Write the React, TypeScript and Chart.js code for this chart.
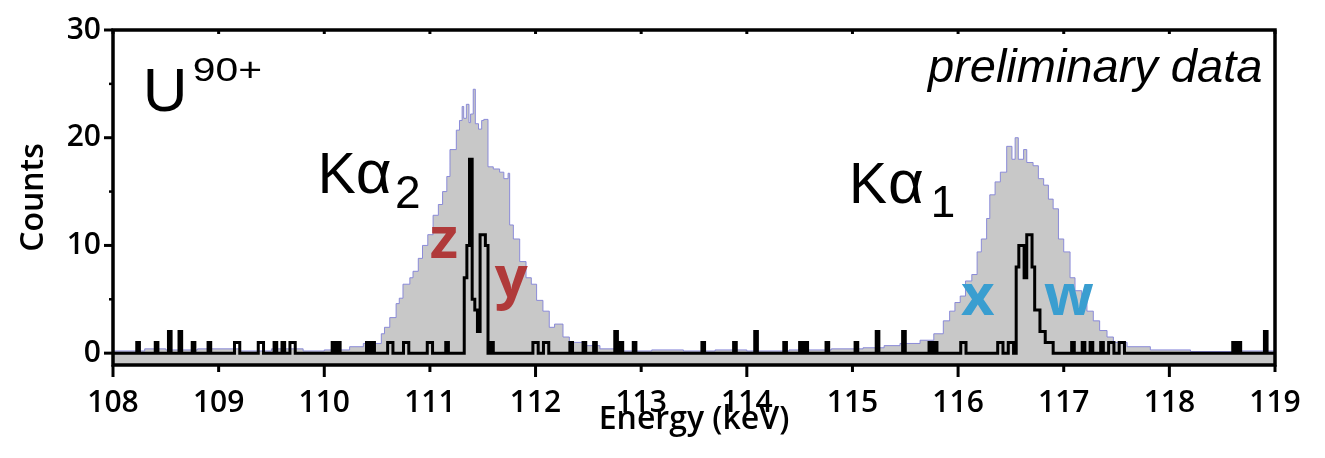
import { useEffect, useRef } from 'react';
import { Chart, registerables } from 'chart.js';

Chart.register(...registerables);

const X_MIN = 108;
const X_MAX = 119;
const Y_MIN = -1.1;
const Y_MAX = 30;

const xTickValues = [108, 109, 110, 111, 112, 113, 114, 115, 116, 117, 118, 119];
const yTickValues = [0, 10, 20, 30];
const yMinorTickValues = [5, 15, 25];

// Broad (gray) spectrum: bin start energies (keV) and counts
const grayEdges = [
  108.0, 108.3, 108.5, 108.8, 109.2, 109.5, 109.8, 110.0,
  110.24, 110.37, 110.54, 110.57, 110.62, 110.68, 110.71, 110.745, 110.81, 110.84, 110.89, 110.93,
  110.98, 111.03, 111.08, 111.12, 111.16, 111.19, 111.25, 111.28, 111.305, 111.32, 111.345, 111.37,
  111.385, 111.41, 111.43, 111.46, 111.49, 111.51, 111.55, 111.6, 111.66, 111.7, 111.74, 111.755,
  111.79, 111.85, 111.91, 111.96, 112.01, 112.07, 112.13, 112.18, 112.26, 112.32, 112.45, 112.61,
  112.8, 113.1, 113.4, 113.7, 114.0, 114.4, 114.8, 115.1, 115.3,
  115.45, 115.64, 115.77, 115.86, 115.92, 115.97, 116.02, 116.07, 116.13, 116.18, 116.22, 116.27,
  116.3, 116.35, 116.4, 116.46, 116.51, 116.54, 116.57, 116.62, 116.65, 116.71, 116.76, 116.81,
  116.855, 116.9, 116.95, 117.0, 117.06, 117.107, 117.17, 117.22, 117.28, 117.34, 117.41, 117.47,
  117.6, 117.82, 118.2, 118.6,
];
const grayCounts = [
  0.2, 0.4, 0.3, 0.4, 0.2, 0.4, 0.2, 0.3,
  0.6, 0.9, 1.8, 2.4, 3.3, 4.6, 5.1, 6.4, 7.0, 7.6, 8.8, 10.0,
  11.0, 12.8, 13.8, 15.0, 16.4, 18.9, 20.7, 21.6, 22.9, 21.8, 23.1, 21.4,
  22.2, 24.5, 21.3, 20.8, 21.6, 21.7, 17.3, 17.1, 16.8, 16.2, 16.7, 11.9,
  10.6, 8.5, 7.0, 6.4, 4.9, 3.9, 2.4, 2.7, 1.5, 1.0, 0.7, 0.4,
  0.2, 0.3, 0.2, 0.3, 0.2, 0.3, 0.4, 0.5, 0.7,
  0.9, 1.2, 1.8, 3.0, 3.9, 4.7, 5.3, 6.7, 7.3, 9.4, 10.6, 12.5,
  14.7, 15.9, 16.8, 19.2, 18.0, 20.0, 18.0, 18.9, 17.7, 17.4, 16.2, 15.6,
  14.3, 13.4, 10.6, 9.4, 7.0, 5.8, 4.9, 3.9, 3.0, 2.1, 1.5, 1.0,
  0.6, 0.3, 0.15, 0.2,
];

// High-resolution (black) spectrum: bin width, non-empty bin starts (keV) and counts
const BLACK_BIN = 0.025;
const blackBinStarts = [
  108.225, 108.4, 108.525, 108.625, 108.75, 108.9, 109.15, 109.175, 109.375, 109.4, 109.525, 109.6,
  109.675, 109.7, 110.075, 110.125, 110.4, 110.45, 110.6, 110.625, 110.75, 110.775, 110.975, 111.0,
  111.15,
  111.325, 111.35, 111.375, 111.4, 111.425, 111.45, 111.475, 111.5, 111.525,
  111.575, 111.975, 112.0, 112.075, 112.1, 112.325, 112.45, 112.55, 112.75, 112.8, 112.925, 113.575,
  113.875, 114.075, 114.35, 114.5, 114.55, 114.75, 115.025, 115.225, 115.475, 115.725, 115.775,
  116.025, 116.05, 116.375, 116.4, 116.475, 116.5,
  116.55, 116.575, 116.6, 116.625, 116.65, 116.675, 116.7, 116.725, 116.75, 116.775, 116.8, 116.825,
  116.85, 116.875,
  117.075, 117.175, 117.25, 117.35, 117.425, 117.45, 117.525, 117.55, 118.6, 118.65, 118.9,
];
const blackCounts = [
  1, 1, 2, 2, 1, 1, 1, 1, 1, 1, 1, 1,
  1, 1, 1, 1, 1, 1, 1, 1, 1, 1, 1, 1,
  1,
  7, 10, 18, 5, 4, 2, 11, 11, 10,
  1, 1, 1, 1, 1, 1, 1, 1, 2, 1, 1, 1,
  1, 2, 1, 1, 1, 1, 1, 2, 2, 1, 1,
  1, 1, 1, 1, 1, 1,
  8, 10, 10, 7, 11, 11, 8, 4, 4, 2, 2, 1,
  1, 1,
  1, 1, 1, 1, 1, 1, 1, 1, 1, 1, 2,
];

type Note = {
  text: string;
  x: number;
  y: number;
  font: string;
  color: string;
  align?: CanvasTextAlign;
  scaleX?: number;
};

const notes: Note[] = [
  { text: 'U', x: 108.282, y: 22.5, font: '62px "Liberation Sans"', color: '#000' },
  { text: '90+', x: 108.755, y: 25.3, font: '34px "Liberation Sans"', color: '#000', scaleX: 1.2 },
  { text: 'preliminary data', x: 118.88, y: 25.2, font: 'italic 47px "Liberation Sans"', color: '#000', align: 'right' },
  { text: 'K', x: 109.938, y: 14.9, font: '57px "Liberation Sans"', color: '#000' },
  { text: 'α', x: 110.297, y: 14.9, font: '62px "Liberation Sans"', color: '#000' },
  { text: '2', x: 110.67, y: 13.5, font: '46px "Liberation Sans"', color: '#000' },
  { text: 'K', x: 114.967, y: 13.9, font: '57px "Liberation Sans"', color: '#000' },
  { text: 'α', x: 115.336, y: 13.9, font: '62px "Liberation Sans"', color: '#000' },
  { text: '1', x: 115.74, y: 12.6, font: '44px "Liberation Sans"', color: '#000' },
  { text: 'z', x: 110.998, y: 8.8, font: 'bold 58px "Open Sans"', color: '#b03a3a' },
  { text: 'y', x: 111.613, y: 5.2, font: 'bold 58px "Open Sans"', color: '#b03a3a' },
  { text: 'x', x: 116.027, y: 3.5, font: 'bold 58px "Open Sans"', color: '#3a9ed0' },
  { text: 'w', x: 116.813, y: 3.5, font: 'bold 58px "Open Sans"', color: '#3a9ed0' },
];

const grayPoints = grayEdges.map((e, i) => ({ x: e, y: grayCounts[i] }));
grayPoints.push({ x: X_MAX, y: grayCounts[grayCounts.length - 1] });

const nBlackBins = Math.round((X_MAX - X_MIN) / BLACK_BIN);
const blackHist: number[] = new Array(nBlackBins).fill(0);
blackBinStarts.forEach((s, i) => {
  const idx = Math.round((s - X_MIN) / BLACK_BIN);
  if (idx >= 0 && idx < nBlackBins) blackHist[idx] = blackCounts[i];
});
const blackPoints = blackHist.map((c, i) => ({ x: X_MIN + i * BLACK_BIN, y: c }));
blackPoints.push({ x: X_MAX, y: 0 });

const framePlugin = {
  id: 'frameAndNotes',
  afterDatasetsDraw(chart: any) {
    const { ctx, chartArea: a, scales } = chart;
    const xs = scales.x;
    const ys = scales.y;
    ctx.save();
    // text annotations
    ctx.textBaseline = 'alphabetic';
    notes.forEach((n) => {
      ctx.save();
      ctx.font = n.font;
      ctx.fillStyle = n.color;
      ctx.textAlign = n.align || 'left';
      const px = xs.getPixelForValue(n.x);
      const py = ys.getPixelForValue(n.y);
      ctx.translate(px, py);
      ctx.scale(n.scaleX || 1, 1);
      ctx.fillText(n.text, 0, 0);
      ctx.restore();
    });
    // frame
    ctx.strokeStyle = '#000';
    ctx.lineWidth = 3.5;
    ctx.strokeRect(a.left, a.top, a.right - a.left, a.bottom - a.top);
    const line = (x1: number, y1: number, x2: number, y2: number) => {
      ctx.beginPath();
      ctx.moveTo(x1, y1);
      ctx.lineTo(x2, y2);
      ctx.stroke();
    };
    ctx.lineWidth = 3;
    xTickValues.forEach((v) => {
      const px = xs.getPixelForValue(v);
      const len = v % 2 === 0 ? 12 : 7;
      line(px, a.bottom, px, a.bottom + len);
      line(px, a.top, px, a.top + 4);
    });
    yTickValues.forEach((v) => {
      const py = ys.getPixelForValue(v);
      line(a.left - 9, py, a.left, py);
    });
    ctx.lineWidth = 2.5;
    yMinorTickValues.forEach((v) => {
      const py = ys.getPixelForValue(v);
      line(a.left - 4, py, a.left, py);
    });
    ctx.restore();
  },
};

export default function App() {
  const canvasRef = useRef<HTMLCanvasElement | null>(null);

  useEffect(() => {
    const canvas = canvasRef.current;
    if (!canvas) return;
    const tickFont = { family: "'Open Sans', sans-serif", size: 30, weight: '600' as any };
    const titleFont = { family: "'Open Sans', sans-serif", size: 32, weight: '600' as any };
    const chart = new Chart(canvas, {
      type: 'line',
      data: {
        datasets: [
          {
            label: 'high resolution',
            data: blackPoints,
            stepped: true,
            borderColor: '#000',
            borderWidth: 3,
            pointRadius: 0,
            fill: false,
            borderJoinStyle: 'miter',
          },
          {
            label: 'broad',
            data: grayPoints,
            stepped: true,
            borderColor: 'rgba(130,130,215,0.9)',
            borderWidth: 1,
            backgroundColor: '#c8c8c8',
            pointRadius: 0,
            fill: 'start',
          },
        ],
      },
      options: {
        animation: false,
        responsive: false,
        maintainAspectRatio: false,
        events: [],
        layout: { padding: { left: 0, right: 50, top: 25, bottom: 0 } },
        plugins: {
          legend: { display: false },
          tooltip: { enabled: false },
        },
        scales: {
          x: {
            type: 'linear',
            min: X_MIN,
            max: X_MAX,
            afterFit: (s: any) => {
              s.height = 93;
            },
            afterBuildTicks: (s: any) => {
              s.ticks = xTickValues.map((v) => ({ value: v }));
            },
            grid: { display: false, drawTicks: false },
            border: { display: false },
            ticks: {
              font: tickFont,
              color: '#000',
              padding: 20,
              maxRotation: 0,
              autoSkip: false,
              callback: (v: any) => String(v),
            },
            title: {
              display: true,
              text: 'Energy (keV)',
              font: titleFont,
              color: '#000',
              padding: { top: 0, bottom: 19 },
            },
          },
          y: {
            type: 'linear',
            min: Y_MIN,
            max: Y_MAX,
            afterFit: (s: any) => {
              s.width = 113;
            },
            afterBuildTicks: (s: any) => {
              s.ticks = yTickValues.map((v) => ({ value: v }));
            },
            grid: { display: false, drawTicks: false },
            border: { display: false },
            ticks: {
              font: tickFont,
              color: '#000',
              padding: 12,
              callback: (v: any) => String(v),
            },
            title: {
              display: true,
              text: 'Counts',
              font: titleFont,
              color: '#000',
              padding: { top: 15, bottom: 0 },
            },
          },
        },
      } as any,
      plugins: [framePlugin],
    });
    return () => chart.destroy();
  }, []);

  return (
    <div style={{ position: 'fixed', left: 0, top: 0, width: 1325, height: 458, background: '#fff' }}>
      <canvas ref={canvasRef} width={1325} height={458} style={{ display: 'block' }} />
    </div>
  );
}
